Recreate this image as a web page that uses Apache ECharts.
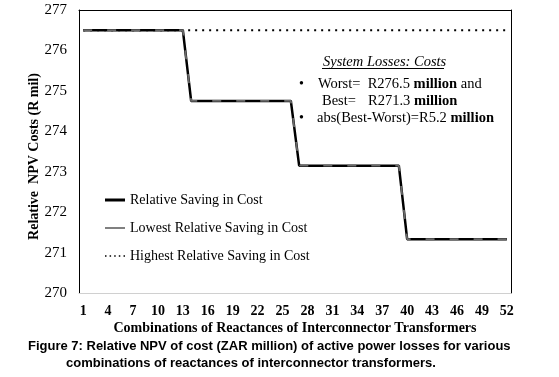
<!DOCTYPE html>
<html>
<head>
<meta charset="utf-8">
<script src="https://cdn.jsdelivr.net/npm/echarts@6/dist/echarts.min.js"></script>
<style>
  html, body { margin: 0; padding: 0; background: #fff; }
  #chart { width: 559px; height: 377px; }
</style>
</head>
<body>
<div id="chart"></div>
<script>
// combinations 1..52
const combos = [];
for (let i = 1; i <= 52; i++) combos.push(String(i));

// relative NPV cost (R mil)
const relativeSaving = [
  276.5, 276.5, 276.5, 276.5, 276.5, 276.5, 276.5, 276.5, 276.5, 276.5, 276.5, 276.5, 276.5,
  274.75, 274.75, 274.75, 274.75, 274.75, 274.75, 274.75, 274.75, 274.75, 274.75, 274.75, 274.75, 274.75,
  273.15, 273.15, 273.15, 273.15, 273.15, 273.15, 273.15, 273.15, 273.15, 273.15, 273.15, 273.15, 273.15,
  271.33, 271.33, 271.33, 271.33, 271.33, 271.33, 271.33, 271.33, 271.33, 271.33, 271.33, 271.33, 271.33
];
const lowestSaving = relativeSaving.slice();
const highestSaving = combos.map(() => 276.5);

const yMin = 270, yMax = 277, yStep = 1;

const serif = '"Liberation Serif", "Times New Roman", serif';
const sans = '"Liberation Sans", Arial, sans-serif';

const myChart = echarts.init(document.getElementById('chart'));
const option = {
  animation: false,
  backgroundColor: '#fff',
  grid: { left: 79, top: 10, right: 48, bottom: 84 },
  legend: {
    orient: 'vertical',
    left: 100,
    top: 188,
    itemWidth: 20,
    itemHeight: 10,
    itemGap: 14,
    textStyle: { fontFamily: serif, fontSize: 14, color: '#000' },
    data: [
      { name: 'Relative Saving in Cost', icon: 'path://M0,0L20,0L20,3L0,3Z', itemStyle: { color: '#000' } },
      { name: 'Lowest Relative Saving in Cost', icon: 'path://M0,0L20,0L20,1L0,1Z', itemStyle: { color: '#000' } },
      { name: 'Highest Relative Saving in Cost', icon: 'path://M0,0h1.5v1.5h-1.5z M4.6,0h1.5v1.5h-1.5z M9.2,0h1.5v1.5h-1.5z M13.8,0h1.5v1.5h-1.5z M18.5,0h1.5v1.5h-1.5z', itemStyle: { color: '#000' } }
    ]
  },
  xAxis: [{
    type: 'category',
    data: combos,
    boundaryGap: true,
    axisLine: { lineStyle: { color: '#d0d0d0', width: 1 } },
    axisTick: { show: false },
    axisLabel: { interval: 2, fontFamily: serif, fontWeight: 'bold', fontSize: 14, color: '#000', margin: 11 },
    name: 'Combinations of Reactances of Interconnector Transformers',
    nameLocation: 'middle',
    nameGap: 28,
    nameMoveOverlap: false,
    nameTextStyle: { fontFamily: serif, fontWeight: 'bold', fontSize: 14, color: '#000' }
  }, {
    type: 'category',
    position: 'top',
    data: combos,
    axisLine: { lineStyle: { color: '#000', width: 1 } },
    axisTick: { show: false },
    axisLabel: { show: false }
  }],
  yAxis: [{
    type: 'value',
    min: yMin,
    max: yMax,
    interval: yStep,
    axisLine: { show: true, lineStyle: { color: '#000', width: 1 } },
    axisTick: { show: false },
    splitLine: { show: false },
    axisLabel: { fontFamily: serif, fontSize: 15, color: '#000', margin: 12 },
    name: 'Relative  NPV Costs (R mil)',
    nameLocation: 'middle',
    nameGap: 38,
    nameMoveOverlap: false,
    nameTextStyle: { fontFamily: serif, fontWeight: 'bold', fontSize: 14, color: '#000', padding: [0, 10, 0, 0] }
  }, {
    type: 'value',
    position: 'right',
    min: yMin,
    max: yMax,
    interval: yStep,
    axisLine: { show: true, lineStyle: { color: '#000', width: 1 } },
    axisTick: { show: false },
    splitLine: { show: false },
    axisLabel: { show: false }
  }],
  series: [
    {
      name: 'Highest Relative Saving in Cost',
      type: 'line',
      data: highestSaving,
      symbol: 'none',
      lineStyle: { color: '#000', width: 2, type: [2, 5] },
      itemStyle: { color: '#000' },
      z: 1
    },
    {
      name: 'Relative Saving in Cost',
      type: 'line',
      data: relativeSaving,
      symbol: 'none',
      lineStyle: { color: '#000', width: 2.5 },
      itemStyle: { color: '#000' },
      z: 2
    },
    {
      name: 'Lowest Relative Saving in Cost',
      type: 'line',
      data: lowestSaving,
      symbol: 'none',
      lineStyle: { color: '#6a6a6a', width: 1.8, type: [9, 15] },
      itemStyle: { color: '#000' },
      z: 3
    }
  ],
  graphic: [
    {
      type: 'text',
      x: 323, y: 55,
      style: { text: 'System Losses: Costs', fontFamily: serif, fontStyle: 'italic', fontSize: 14.5, fill: '#000' }
    },
    {
      type: 'line',
      shape: { x1: 322, y1: 68.5, x2: 444, y2: 68.5 },
      style: { stroke: '#000', lineWidth: 1 }
    },
    {
      type: 'text', x: 299, y: 77,
      style: { text: '•', fontFamily: serif, fontSize: 14, fill: '#000' }
    },
    {
      type: 'text', x: 318, y: 77,
      style: {
        text: 'Worst=  R276.5 {b|million} and',
        fontFamily: serif, fontSize: 14.5, fill: '#000',
        rich: { b: { fontFamily: serif, fontSize: 14.5, fontWeight: 'bold', fill: '#000' } }
      }
    },
    {
      type: 'text', x: 322, y: 94,
      style: { text: 'Best=', fontFamily: serif, fontSize: 14.5, fill: '#000' }
    },
    {
      type: 'text', x: 368, y: 94,
      style: {
        text: 'R271.3 {b|million}',
        fontFamily: serif, fontSize: 14.5, fill: '#000',
        rich: { b: { fontFamily: serif, fontSize: 14.5, fontWeight: 'bold', fill: '#000' } }
      }
    },
    {
      type: 'text', x: 299, y: 111,
      style: { text: '•', fontFamily: serif, fontSize: 14, fill: '#000' }
    },
    {
      type: 'text', x: 317, y: 111,
      style: {
        text: 'abs(Best-Worst)=R5.2 {b|million}',
        fontFamily: serif, fontSize: 14.5, fill: '#000',
        rich: { b: { fontFamily: serif, fontSize: 14.5, fontWeight: 'bold', fill: '#000' } }
      }
    },
    {
      type: 'text', x: 28, y: 340,
      style: {
        text: 'Figure 7: Relative NPV of cost (ZAR million) of active power losses for various',
        fontFamily: sans, fontWeight: 'bold', fontSize: 13, fill: '#000'
      }
    },
    {
      type: 'text', x: 66, y: 357,
      style: {
        text: 'combinations of reactances of interconnector transformers.',
        fontFamily: sans, fontWeight: 'bold', fontSize: 13, fill: '#000'
      }
    }
  ]
};
myChart.setOption(option, true);
</script>
</body>
</html>
